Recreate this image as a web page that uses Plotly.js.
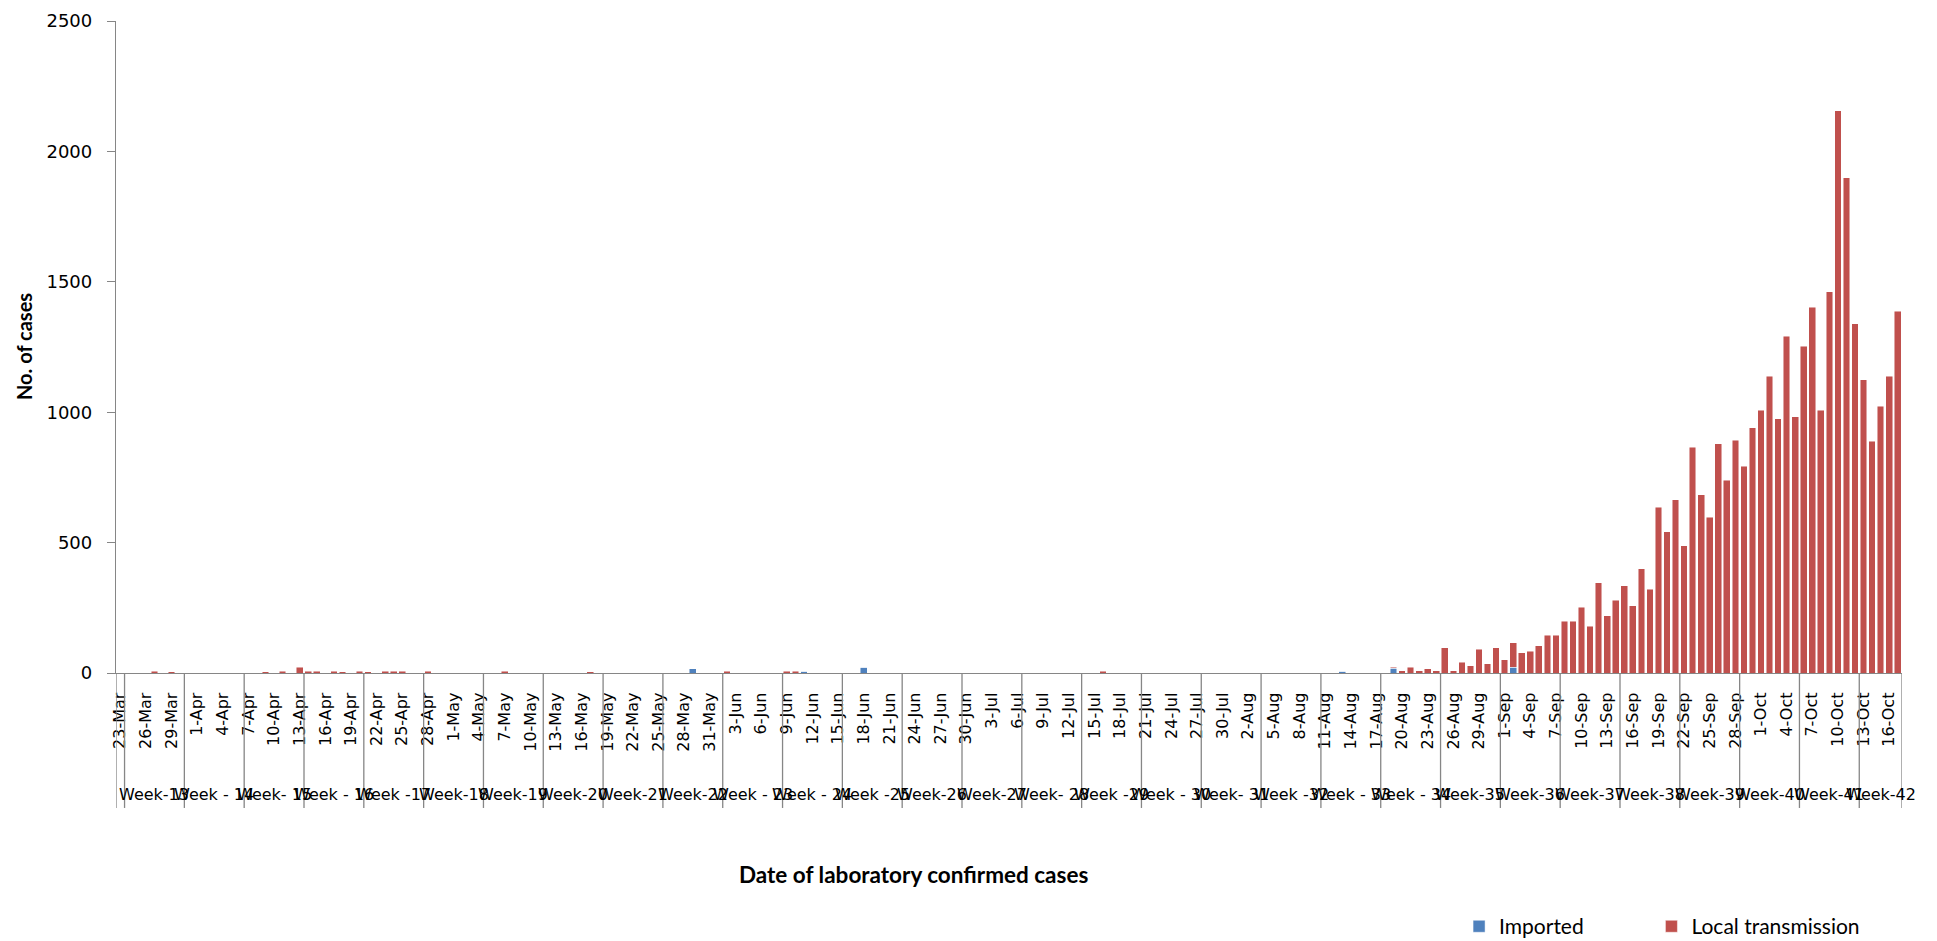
<!DOCTYPE html>
<html>
<head>
<meta charset="utf-8">
<script src="https://cdn.plot.ly/plotly-3.0.1.min.js"></script>
<style>html,body{margin:0;padding:0;background:#fff;}#chart{width:1937px;height:941px;}</style>
</head>
<body>
<div id="chart"></div>
<script>
// ---- categories (one per day) ----
const datesMar = ["23-Mar","24-Mar","25-Mar","26-Mar","27-Mar","28-Mar","29-Mar","30-Mar","31-Mar"];
const datesApr = ["1-Apr","2-Apr","3-Apr","4-Apr","5-Apr","6-Apr","7-Apr","8-Apr","9-Apr","10-Apr","11-Apr","12-Apr","13-Apr","14-Apr","15-Apr","16-Apr","17-Apr","18-Apr","19-Apr","20-Apr","21-Apr","22-Apr","23-Apr","24-Apr","25-Apr","26-Apr","27-Apr","28-Apr","29-Apr","30-Apr"];
const datesMay = ["1-May","2-May","3-May","4-May","5-May","6-May","7-May","8-May","9-May","10-May","11-May","12-May","13-May","14-May","15-May","16-May","17-May","18-May","19-May","20-May","21-May","22-May","23-May","24-May","25-May","26-May","27-May","28-May","29-May","30-May","31-May"];
const datesJun = ["1-Jun","2-Jun","3-Jun","4-Jun","5-Jun","6-Jun","7-Jun","8-Jun","9-Jun","10-Jun","11-Jun","12-Jun","13-Jun","14-Jun","15-Jun","16-Jun","17-Jun","18-Jun","19-Jun","20-Jun","21-Jun","22-Jun","23-Jun","24-Jun","25-Jun","26-Jun","27-Jun","28-Jun","29-Jun","30-Jun"];
const datesJul = ["1-Jul","2-Jul","3-Jul","4-Jul","5-Jul","6-Jul","7-Jul","8-Jul","9-Jul","10-Jul","11-Jul","12-Jul","13-Jul","14-Jul","15-Jul","16-Jul","17-Jul","18-Jul","19-Jul","20-Jul","21-Jul","22-Jul","23-Jul","24-Jul","25-Jul","26-Jul","27-Jul","28-Jul","29-Jul","30-Jul","31-Jul"];
const datesAug = ["1-Aug","2-Aug","3-Aug","4-Aug","5-Aug","6-Aug","7-Aug","8-Aug","9-Aug","10-Aug","11-Aug","12-Aug","13-Aug","14-Aug","15-Aug","16-Aug","17-Aug","18-Aug","19-Aug","20-Aug","21-Aug","22-Aug","23-Aug","24-Aug","25-Aug","26-Aug","27-Aug","28-Aug","29-Aug","30-Aug","31-Aug"];
const datesSep = ["1-Sep","2-Sep","3-Sep","4-Sep","5-Sep","6-Sep","7-Sep","8-Sep","9-Sep","10-Sep","11-Sep","12-Sep","13-Sep","14-Sep","15-Sep","16-Sep","17-Sep","18-Sep","19-Sep","20-Sep","21-Sep","22-Sep","23-Sep","24-Sep","25-Sep","26-Sep","27-Sep","28-Sep","29-Sep","30-Sep"];
const datesOct = ["1-Oct","2-Oct","3-Oct","4-Oct","5-Oct","6-Oct","7-Oct","8-Oct","9-Oct","10-Oct","11-Oct","12-Oct","13-Oct","14-Oct","15-Oct","16-Oct","17-Oct"];

// ---- series: Local transmission ----
const localMar = [0,0,0,0,6,0,5,0,0];
const localApr = [0,0,0,0,0,0,0,0,5,0,6,0,22,7,6,0,6,5,0,6,5,0,6,6,7,0,0,6,0,0];
const localMay = [0,0,0,0,0,0,6,0,0,0,0,0,0,0,0,0,5,0,0,0,0,0,0,0,0,0,0,0,0,0,0];
const localJun = [0,6,0,0,0,0,0,0,7,7,0,0,0,0,0,0,0,0,0,0,0,0,0,0,0,0,0,0,0,0];
const localJul = [0,0,0,0,0,0,0,0,0,0,0,0,0,0,0,6,0,0,0,0,0,0,0,0,0,0,0,0,0,0,0];
const localAug = [0,0,0,0,0,0,0,0,0,0,0,0,0,0,0,0,0,0,4,9,23,9,17,9,97,9,42,28,91,36,97];
const localSep = [51,93,77,84,105,144,144,199,199,252,179,346,219,279,334,258,400,321,636,542,665,488,866,684,597,880,739,892,793,941];
const localOct = [1008,1138,975,1292,982,1252,1402,1008,1461,2156,1899,1339,1124,888,1022,1138,1387];

// ---- series: Imported ----
const importedMar = [0,0,0,0,0,0,0,0,0];
const importedApr = [0,0,0,0,0,0,0,0,0,0,0,0,0,0,0,0,0,0,0,0,0,0,0,0,0,0,0,0,0,0];
const importedMay = [0,0,0,0,0,0,0,0,0,0,0,0,0,0,0,0,0,0,0,0,0,0,0,0,0,0,0,0,16,0,0];
const importedJun = [0,0,0,0,0,0,0,0,0,0,6,0,0,0,0,0,0,22,0,0,0,0,0,0,0,0,0,0,0,0];
const importedJul = [0,0,0,0,0,0,0,0,0,0,0,0,0,0,0,0,0,0,0,0,0,0,0,0,0,0,0,0,0,0,0];
const importedAug = [0,0,0,0,0,0,0,0,0,0,0,0,6,0,0,0,0,0,19,0,0,0,0,0,0,0,0,0,0,0,0];
const importedSep = [0,23,0,0,0,0,0,0,0,0,0,0,0,0,0,0,0,0,0,0,0,0,0,0,0,0,0,0,0,0];
const importedOct = [0,0,0,0,0,0,0,0,0,0,0,0,0,0,0,0,0];

// ---- tick labels (every third day) ----
const tickLabels = ["23-Mar","26-Mar","29-Mar","1-Apr","4-Apr","7-Apr","10-Apr","13-Apr","16-Apr","19-Apr","22-Apr","25-Apr","28-Apr","1-May","4-May","7-May","10-May","13-May","16-May","19-May","22-May","25-May","28-May","31-May","3-Jun","6-Jun","9-Jun","12-Jun","15-Jun","18-Jun","21-Jun","24-Jun","27-Jun","30-Jun","3-Jul","6-Jul","9-Jul","12-Jul","15-Jul","18-Jul","21-Jul","24-Jul","27-Jul","30-Jul","2-Aug","5-Aug","8-Aug","11-Aug","14-Aug","17-Aug","20-Aug","23-Aug","26-Aug","29-Aug","1-Sep","4-Sep","7-Sep","10-Sep","13-Sep","16-Sep","19-Sep","22-Sep","25-Sep","28-Sep","1-Oct","4-Oct","7-Oct","10-Oct","13-Oct","16-Oct"];

// ---- week groups (second level of the category axis) ----
const weekStarts = ["23-Mar","24-Mar","31-Mar","7-Apr","14-Apr","21-Apr","28-Apr","5-May","12-May","19-May","26-May","2-Jun","9-Jun","16-Jun","23-Jun","30-Jun","7-Jul","14-Jul","21-Jul","28-Jul","4-Aug","11-Aug","18-Aug","25-Aug","1-Sep","8-Sep","15-Sep","22-Sep","29-Sep","6-Oct","13-Oct"];
const weekLabels = ["","Week-13","Week - 14","Week- 15","Week - 16","Week -17","Week-18","Week-19","Week-20","Week-21","Week-22","Week - 23","Week - 24","Week -25","Week-26","Week-27","Week- 28","Week -29","Week - 30","Week- 31","Week -32","Week - 33","Week - 34","Week-35","Week-36","Week-37","Week-38","Week-39","Week-40","Week-41","Week-42"];

const dates = [].concat(datesMar,datesApr,datesMay,datesJun,datesJul,datesAug,datesSep,datesOct);
const local = [].concat(localMar,localApr,localMay,localJun,localJul,localAug,localSep,localOct);
const imported = [].concat(importedMar,importedApr,importedMay,importedJun,importedJul,importedAug,importedSep,importedOct);

const BLUE = "#4F81BD", RED = "#C0504D", AXIS = "#868686";
const TICKFONT = "DejaVu Sans";
const TITLEFONT = "Lato";

const traces = [
  {type:"bar", name:"Imported", x:dates, y:imported, legend:"legend",
   marker:{color:BLUE, line:{color:"rgba(255,255,255,0.6)", width:0.8}}, hoverinfo:"x+y+name"},
  {type:"bar", name:"Local transmission", x:dates, y:local, legend:"legend2",
   marker:{color:RED, line:{color:"rgba(255,255,255,0.6)", width:0.8}}, hoverinfo:"x+y+name"}
];

// group boundaries and label positions on the category axis
const shapes = [];
const annotations = [];
const startIdx = weekStarts.map(d => dates.indexOf(d));
startIdx.push(dates.length);
const lineBottom = -0.207;
for (let g = 0; g < weekLabels.length; g++) {
  const a = startIdx[g], b = startIdx[g+1];
  shapes.push({type:"line", xref:"x", yref:"paper", x0:a-0.5, x1:a-0.5, y0:0, y1:lineBottom,
               line:{color:AXIS, width:1.3}});
  if (weekLabels[g]) {
    annotations.push({xref:"x", yref:"paper", x:(a+b-1)/2, y:-0.1856, yanchor:"middle", xanchor:"center",
      text:weekLabels[g], showarrow:false, font:{family:TICKFONT, size:16, color:"#000"}});
  }
}
shapes.push({type:"line", xref:"x", yref:"paper", x0:dates.length-0.5, x1:dates.length-0.5, y0:0, y1:lineBottom,
             line:{color:AXIS, width:1.3}});

annotations.push({xref:"paper", yref:"paper", x:0.4468, y:-0.3098, xanchor:"center", yanchor:"middle",
  text:"Date of laboratory confirmed cases", showarrow:false,
  font:{family:TITLEFONT, size:22.5, weight:700, color:"#000"}});
annotations.push({xref:"paper", yref:"paper", x:-0.0515, y:0.5, xanchor:"center", yanchor:"middle", textangle:-90,
  text:"No. of cases", showarrow:false,
  font:{family:TITLEFONT, size:20, weight:700, color:"#000"}});

const layout = {
  width:1937, height:941,
  margin:{l:116, r:35, t:21, b:268, autoexpand:false},
  paper_bgcolor:"#fff", plot_bgcolor:"#fff",
  barmode:"stack", bargap:0.22,
  showlegend:true,
  legend:{orientation:"h", x:0.752, xanchor:"left", y:-0.389, yanchor:"middle",
          font:{family:TITLEFONT, size:21, color:"#000"}, bgcolor:"rgba(0,0,0,0)"},
  legend2:{orientation:"h", x:0.8597, xanchor:"left", y:-0.389, yanchor:"middle",
          font:{family:TITLEFONT, size:21, color:"#000"}, bgcolor:"rgba(0,0,0,0)"},
  xaxis:{type:"category", categoryorder:"array", categoryarray:dates, range:[-0.5, dates.length-0.5],
         tickmode:"array", tickvals:tickLabels, ticktext:tickLabels, tickangle:-90,
         ticks:"", showline:true, linecolor:AXIS, linewidth:1.3, showgrid:false, zeroline:false,
         ticklabelstandoff:12, automargin:false,
         tickfont:{family:TICKFONT, size:16, color:"#000"}},
  yaxis:{range:[0,2500], tickmode:"linear", tick0:0, dtick:500, ticks:"outside", ticklen:8,
         tickcolor:AXIS, tickwidth:1.3, showline:true, linecolor:AXIS, linewidth:1.3,
         showgrid:false, zeroline:false, automargin:false, ticklabelstandoff:11,
         tickfont:{family:TICKFONT, size:18, color:"#000"}},
  shapes:shapes,
  annotations:annotations
};

Plotly.newPlot("chart", traces, layout, {displayModeBar:false, responsive:false});
</script>
</body>
</html>
